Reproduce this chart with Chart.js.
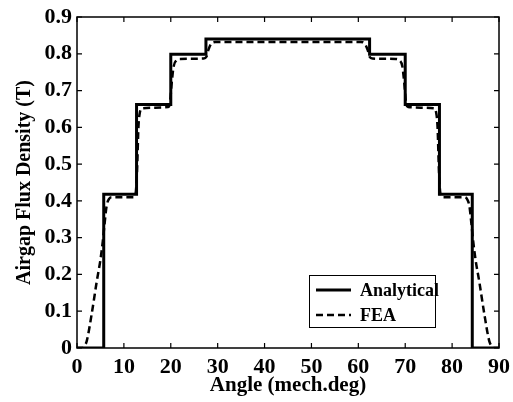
<!DOCTYPE html>
<html>
<head>
<meta charset="utf-8">
<script src="https://cdn.jsdelivr.net/npm/chart.js@4.4.1/dist/chart.umd.min.js"></script>
<style>
  html, body { margin: 0; padding: 0; background: #fff; }
  canvas { display: block; }
</style>
</head>
<body>
<canvas id="fluxChart" width="513" height="402"></canvas>
<script>
// analytical: step profile, vertical edges as repeated x values
const analyticalX = [0, 5.7, 5.7, 12.7, 12.7, 20, 20, 27.5, 27.5, 62.4, 62.4, 70, 70, 77.3, 77.3, 84.3, 84.3, 90];
const analyticalY = [0, 0, 0.418, 0.418, 0.662, 0.662, 0.799, 0.799, 0.840, 0.840, 0.799, 0.799, 0.662, 0.662, 0.418, 0.418, 0, 0];

// FEA
const feaX = [0, 1.2, 1.6, 2.1, 3.1, 4.2, 5.0, 5.5, 5.9, 6.3, 6.8, 7.5, 12.0, 12.5, 12.8, 13.1, 13.4, 13.9,
  19.4, 19.8, 20.2, 20.6, 21.2, 22.0, 27.0, 27.6, 28.0, 28.6, 29.5, 60.5, 61.4, 62.0, 62.4, 63.0,
  68.0, 68.8, 69.4, 69.8, 70.2, 70.6, 76.1, 76.6, 76.9, 77.2, 77.5, 78.0, 82.5, 83.2, 83.7, 84.1,
  84.5, 85.0, 85.8, 86.9, 87.9, 88.4, 88.8, 90];
const feaY = [0, 0, 0.005, 0.02, 0.09, 0.18, 0.24, 0.29, 0.34, 0.385, 0.405, 0.41, 0.41, 0.42, 0.48, 0.60, 0.64, 0.652,
  0.655, 0.665, 0.72, 0.765, 0.782, 0.786, 0.787, 0.792, 0.81, 0.827, 0.832, 0.832, 0.827, 0.81, 0.792, 0.787,
  0.786, 0.782, 0.765, 0.72, 0.665, 0.655, 0.652, 0.64, 0.60, 0.48, 0.42, 0.41, 0.41, 0.405, 0.385, 0.34,
  0.29, 0.24, 0.18, 0.09, 0.02, 0.005, 0, 0];

const seriesNames = ['Analytical', 'FEA'];
const xTitle = 'Angle (mech.deg)';
const yTitle = 'Airgap Flux Density (T)';

const serif = '"Liberation Serif", "Times New Roman", serif';

const toPts = (xs, ys) => xs.map((x, i) => ({ x: x, y: ys[i] }));

// frame + inward ticks on all four sides, legend box inside the plot
const framePlugin = {
  id: 'frame',
  beforeDatasetsDraw(chart) {
    const { ctx, chartArea: a, scales } = chart;
    ctx.save();
    ctx.strokeStyle = '#000';
    ctx.lineWidth = 1.5;
    ctx.strokeRect(a.left, a.top, a.right - a.left, a.bottom - a.top);
    ctx.lineWidth = 1.2;
    ctx.beginPath();
    scales.x.ticks.forEach(t => {
      const px = scales.x.getPixelForValue(t.value);
      ctx.moveTo(px, a.bottom); ctx.lineTo(px, a.bottom - 5);
      ctx.moveTo(px, a.top); ctx.lineTo(px, a.top + 5);
    });
    scales.y.ticks.forEach(t => {
      const py = scales.y.getPixelForValue(t.value);
      ctx.moveTo(a.left, py); ctx.lineTo(a.left + 5, py);
      ctx.moveTo(a.right, py); ctx.lineTo(a.right - 5, py);
    });
    ctx.stroke();
    ctx.restore();
  },
  afterDatasetsDraw(chart) {
    const { ctx, chartArea: a } = chart;
    const bx = a.right - 190, by = a.bottom - 73, bw = 126, bh = 52;
    ctx.save();
    ctx.fillStyle = '#fff';
    ctx.fillRect(bx, by, bw, bh);
    ctx.strokeStyle = '#000';
    ctx.lineWidth = 1;
    ctx.strokeRect(bx + 0.5, by + 0.5, bw, bh);
    chart.data.datasets.forEach((ds, i) => {
      const ly = by + 15 + i * 25;
      ctx.beginPath();
      ctx.lineWidth = ds.borderWidth;
      ctx.setLineDash(ds.borderDash || []);
      ctx.moveTo(bx + 7, ly);
      ctx.lineTo(bx + 42, ly);
      ctx.stroke();
      ctx.setLineDash([]);
      ctx.fillStyle = '#000';
      ctx.font = 'bold 18px ' + serif;
      ctx.textBaseline = 'middle';
      ctx.fillText(ds.label, bx + 51, ly + 1);
    });
    ctx.restore();
  }
};

new Chart(document.getElementById('fluxChart').getContext('2d'), {
  type: 'line',
  data: {
    datasets: [
      {
        label: seriesNames[0],
        data: toPts(analyticalX, analyticalY),
        borderColor: '#000',
        borderWidth: 3,
        pointRadius: 0,
        tension: 0,
        fill: false
      },
      {
        label: seriesNames[1],
        data: toPts(feaX, feaY),
        borderColor: '#000',
        borderWidth: 2.5,
        borderDash: [7, 4],
        pointRadius: 0,
        cubicInterpolationMode: 'monotone',
        fill: false
      }
    ]
  },
  options: {
    responsive: false,
    animation: false,
    devicePixelRatio: 1,
    layout: { autoPadding: false, padding: { top: 17, right: 14, left: 0, bottom: 0 } },
    plugins: { legend: { display: false }, tooltip: { enabled: false } },
    scales: {
      x: {
        type: 'linear',
        min: 0, max: 90,
        grid: { display: false, drawTicks: false },
        border: { display: false },
        ticks: { stepSize: 10, color: '#000', padding: 6, maxRotation: 0,
                 font: { family: serif, size: 22, weight: 'bold' } },
        title: { display: true, text: xTitle, color: '#000', padding: { top: 0, bottom: 4 },
                 font: { family: serif, size: 21, weight: 'bold' } },
        afterFit(scale) { scale.height = 54; scale.paddingLeft = 0; scale.paddingRight = 0; }
      },
      y: {
        min: 0, max: 0.9,
        grid: { display: false, drawTicks: false },
        border: { display: false },
        ticks: { stepSize: 0.1, color: '#000', padding: 5,
                 font: { family: serif, size: 22, weight: 'bold' },
                 callback: v => (Math.round(v * 10) / 10).toString() },
        title: { display: true, text: yTitle, color: '#000', padding: { top: 13, bottom: 0 },
                 font: { family: serif, size: 20, weight: 'bold' } },
        afterFit(scale) { scale.width = 77; scale.paddingTop = 0; scale.paddingBottom = 0; }
      }
    }
  },
  plugins: [framePlugin]
});
</script>
</body>
</html>
